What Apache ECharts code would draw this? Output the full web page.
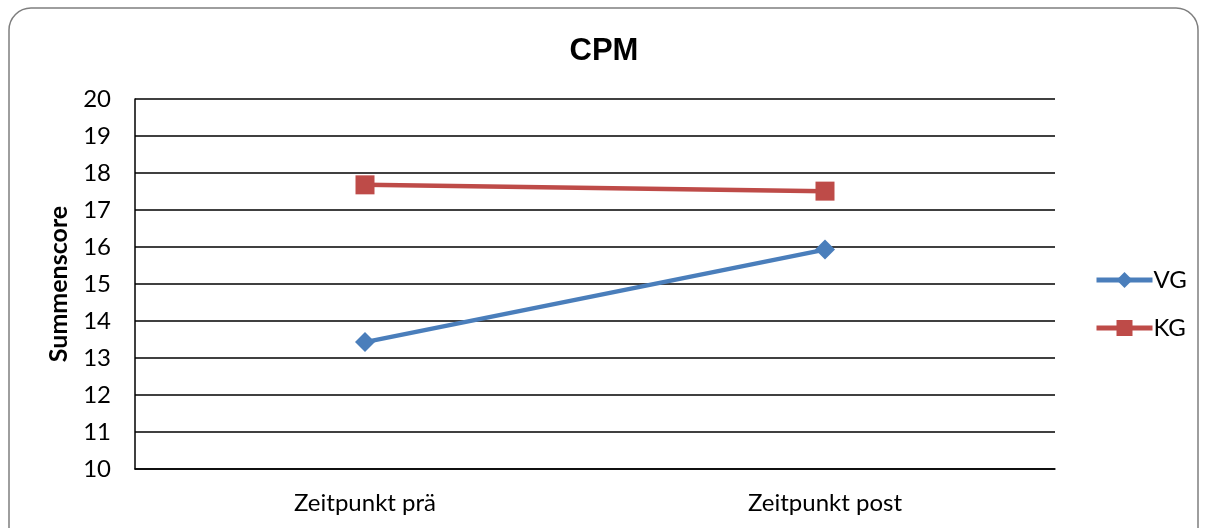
<!DOCTYPE html>
<html>
<head>
<meta charset="utf-8">
<script src="https://cdn.jsdelivr.net/npm/echarts@6/dist/echarts.min.js"></script>
<style>
  html, body { margin: 0; padding: 0; background: #fff; }
  #container { width: 1208px; height: 528px; }
</style>
</head>
<body>
<div id="container"></div>
<script>
var categories = ['Zeitpunkt prä', 'Zeitpunkt post'];
var vgValues = [13.43, 15.93];
var kgValues = [17.68, 17.51];

var dom = document.getElementById("container");
var myChart = echarts.init(dom);
var option = {
    backgroundColor: '#fff',
    animation: false,
    title: {
        text: 'CPM',
        left: 'center',
        top: 31,
        textStyle: {
            fontFamily: 'Liberation Sans',
            fontWeight: 'bold',
            fontSize: 31,
            color: '#000'
        }
    },
    graphic: [{
        type: 'rect',
        shape: { x: 9, y: 8, width: 1189, height: 560, r: 22 },
        style: { fill: 'none', stroke: '#7f7f7f', lineWidth: 1.5 },
        silent: true
    }],
    legend: {
        orient: 'vertical',
        left: 1089,
        top: 263,
        itemGap: 24,
        itemWidth: 56,
        itemHeight: 20,
        lineStyle: { width: 5 },
        textStyle: { fontFamily: 'Lato', fontSize: 24, color: '#000', padding: [0, 0, 0, -4] },
        data: ['VG', 'KG']
    },
    grid: {
        left: 135,
        right: 153,
        top: 99,
        bottom: 59
    },
    xAxis: {
        type: 'category',
        data: categories,
        boundaryGap: true,
        axisLine: { show: true, lineStyle: { color: '#000', width: 1.5 } },
        axisTick: { show: false },
        axisLabel: {
            fontFamily: 'Lato',
            fontSize: 24,
            color: '#000',
            margin: 22
        }
    },
    yAxis: {
        type: 'value',
        name: 'Summenscore',
        nameLocation: 'middle',
        nameGap: 64,
        nameTextStyle: { fontFamily: 'Lato', fontWeight: 'bold', fontSize: 25, color: '#000' },
        min: 10,
        max: 20,
        interval: 1,
        axisLine: { show: true, lineStyle: { color: '#000', width: 1.5 } },
        axisTick: { show: false },
        splitLine: { show: true, lineStyle: { color: '#000', width: 1.5 } },
        axisLabel: {
            fontFamily: 'Lato',
            fontSize: 24,
            color: '#000',
            margin: 24
        }
    },
    series: [
        {
            name: 'VG',
            type: 'line',
            data: vgValues,
            symbol: 'diamond',
            symbolSize: 20,
            lineStyle: { color: '#4a7ebb', width: 4.5 },
            itemStyle: { color: '#4a7ebb' }
        },
        {
            name: 'KG',
            type: 'line',
            data: kgValues,
            symbol: 'rect',
            symbolSize: 19,
            lineStyle: { color: '#be4b48', width: 4.5 },
            itemStyle: { color: '#be4b48' }
        }
    ]
};
myChart.setOption(option, true);
</script>
</body>
</html>
